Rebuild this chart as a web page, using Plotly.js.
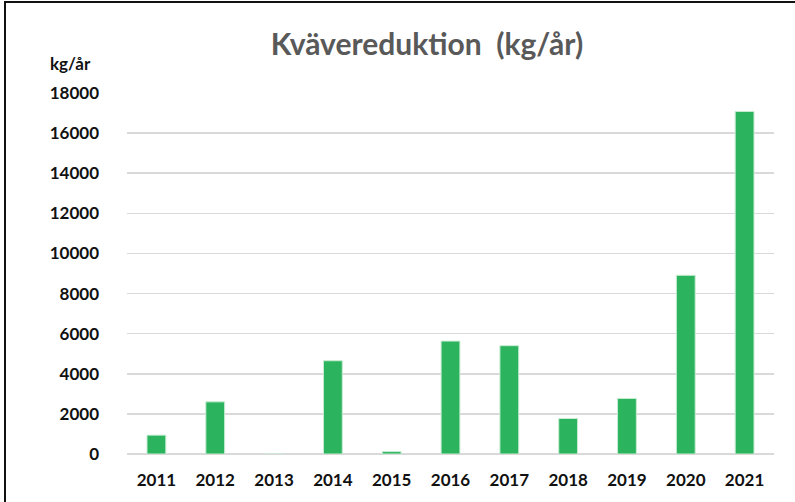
<!DOCTYPE html>
<html>
<head>
<meta charset="utf-8">
<script src="https://cdn.plot.ly/plotly-3.0.1.min.js"></script>
<style>
html,body{margin:0;padding:0;background:#fff;}
#wrap{position:relative;width:795px;height:502px;}
#chart{position:absolute;left:0;top:0;width:795px;height:502px;}
#frame{position:absolute;left:4px;top:1px;width:800px;height:510px;border-left:2px solid #111;border-top:2px solid #111;pointer-events:none;}
</style>
</head>
<body>
<div id="wrap"><div id="chart"></div><div id="frame"></div></div>
<script>
const years = ['2011','2012','2013','2014','2015','2016','2017','2018','2019','2020','2021'];
const reduction = [940, 2600, 0, 4650, 120, 5630, 5400, 1770, 2770, 8910, 17080];
const yTicks = [0,2000,4000,6000,8000,10000,12000,14000,16000,18000];

const fontFam = 'Lato, "Open Sans", sans-serif';

Plotly.newPlot('chart', [{
  type: 'bar',
  x: years,
  y: reduction,
  marker: {color: '#2bb35e', line: {color: '#c8ecd2', width: 1}},
  hoverinfo: 'none'
}], {
  width: 795, height: 502,
  margin: {l: 127, r: 21, t: 93, b: 48},
  paper_bgcolor: '#fff', plot_bgcolor: '#fff',
  bargap: 0.68,
  showlegend: false,
  title: {text: 'Kvävereduktion  (kg/år)', x: 0.537, xanchor: 'center', y: 0.912, yanchor: 'middle',
          font: {family: fontFam, size: 30, color: '#595959', weight: 'bold'}},
  xaxis: {type: 'category', showgrid: false, showline: false, zeroline: false, ticks: '',
          ticklabelstandoff: 14,
          tickfont: {family: fontFam, size: 17, color: '#111', weight: 'bold'}},
  yaxis: {range: [0, 18000], tickvals: yTicks, ticktext: yTicks.map(String),
          showgrid: true, gridcolor: '#d9d9d9', gridwidth: 1.5,
          zeroline: true, zerolinecolor: '#d9d9d9', zerolinewidth: 1.5,
          showline: false, ticks: '', ticklabelstandoff: 27,
          tickfont: {family: fontFam, size: 17, color: '#111', weight: 'bold'}},
  annotations: [{text: 'kg/år', xref: 'paper', yref: 'paper', x: -0.087, y: 1.083,
                 xanchor: 'center', yanchor: 'middle', showarrow: false,
                 font: {family: fontFam, size: 17, color: '#111', weight: 'bold'}}]
}, {staticPlot: true});
</script>
</body>
</html>
